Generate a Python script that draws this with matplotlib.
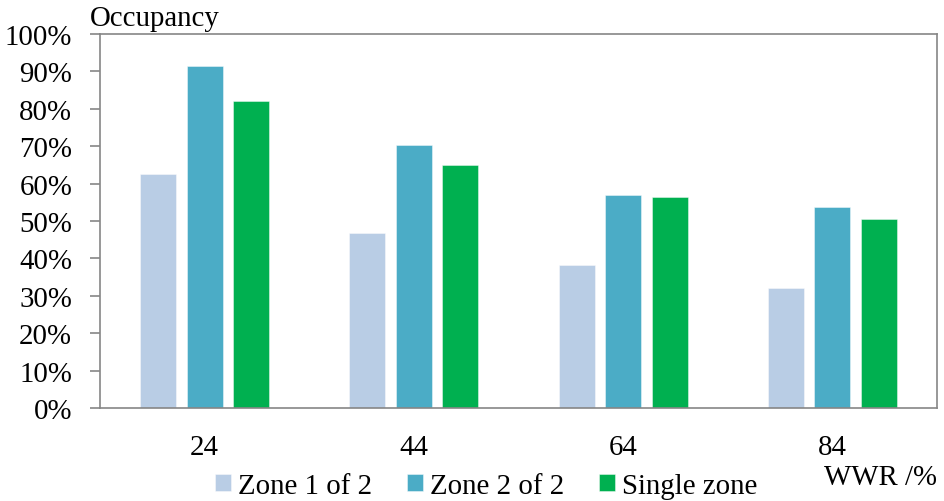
import matplotlib
matplotlib.use('Agg')
from matplotlib import pyplot as plt
from matplotlib.ticker import PercentFormatter
import numpy as np

wwr = ['24', '44', '64', '84']
series = ['Zone 1 of 2', 'Zone 2 of 2', 'Single zone']
zone1 = [62.7, 46.8, 38.3, 32.1]
zone2 = [91.5, 70.4, 57.0, 53.8]
single = [82.0, 65.0, 56.3, 50.5]
colors = ['#B9CDE5', '#4BACC6', '#00B050']

plt.rcParams['font.family'] = ['Liberation Serif', 'DejaVu Serif']
fs = 20.8

fig = plt.figure(figsize=(9.44, 5.02), dpi=100)
ax = fig.add_axes([100 / 944, 93 / 502, 837 / 944, 374 / 502])

x = np.arange(len(wwr))
step = 0.222
width = 0.172
for i, (vals, name) in enumerate(zip([zone1, zone2, single], series)):
    ax.bar(x + (i - 1) * step, vals, width, color=colors[i], label=name,
           edgecolor=(1, 1, 1, 0.5), linewidth=0.6)

ax.set_xlim(-0.5, 3.5)
ax.set_ylim(0, 100)
ax.set_yticks(np.arange(0, 101, 10))
ax.yaxis.set_major_formatter(PercentFormatter(decimals=0))
ax.set_xticks(x)
ax.set_xticklabels(wwr)

grey = '#868686'
for s in ax.spines.values():
    s.set_color(grey)
    s.set_linewidth(1.2)
ax.tick_params(axis='y', direction='out', length=7, width=1.2, color=grey,
               labelsize=fs, pad=13)
ax.tick_params(axis='x', length=0, labelsize=fs, pad=19)

fig.text(90 / 944, 1 - 26 / 502, 'Occupancy', fontsize=fs, va='baseline')
fig.text(937 / 944, 1 - 485 / 502, 'WWR /%', fontsize=fs, va='baseline',
         ha='right')

ax.legend(ncol=3, frameon=False, loc='center', fontsize=fs,
          bbox_to_anchor=(486 / 944, 1 - 487 / 502),
          bbox_transform=fig.transFigure,
          handlelength=0.55, handleheight=0.55, handletextpad=0.25,
          columnspacing=1.2, borderpad=0, borderaxespad=0)

fig.savefig('out.png', dpi=100)
